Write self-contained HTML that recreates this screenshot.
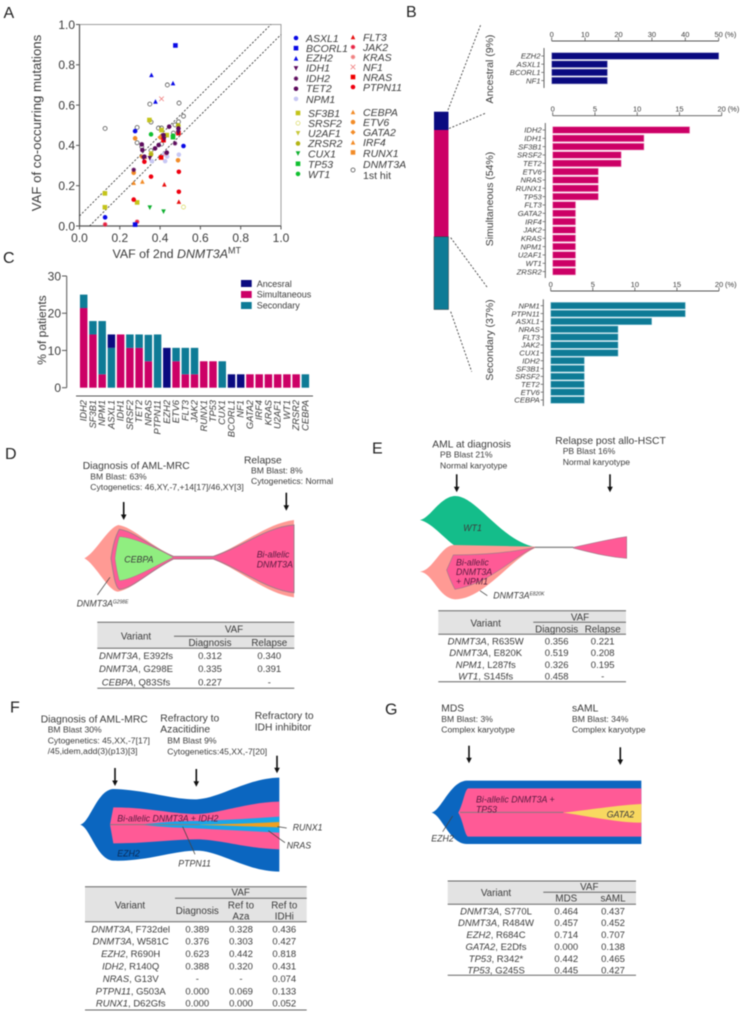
<!DOCTYPE html>
<html lang="en">
<head>
<meta charset="utf-8">
<title>DNMT3A clonal evolution figure</title>
<style>
html,body{margin:0;padding:0;background:#fff;}
svg{display:block;filter:blur(.42px);}
text{font-family:"Liberation Sans",sans-serif;fill:#3c3c3c;}
.pl{font-size:16px;fill:#222;}
.h{font-size:10.3px;}
.s{font-size:8.6px;}
.g{font-size:10.5px;font-style:italic;}
.f{font-size:8.8px;font-style:italic;}
.dk{fill:#5a1a40;}
.th{font-size:9.8px;text-anchor:middle;}
.td{font-size:9.5px;text-anchor:middle;}
.i{font-style:italic;}
.sup{font-size:5px;}
.ar{stroke:#111;stroke-width:1.6;fill:none;}
.ah{fill:#111;stroke:none;}
.rule{stroke:#666;stroke-width:1;}
.lead{stroke:#444;stroke-width:2.2;fill:none;}
.dash{stroke:#444;stroke-width:.9;stroke-dasharray:2 1.7;fill:none;}
</style>
</head>
<body>
<svg id="fig" xmlns="http://www.w3.org/2000/svg" width="744" height="1015" viewBox="0 0 744 1015">
<rect width="744" height="1015" fill="#fff"/>

<text class="pl" x="3.5" y="18">A</text>
<text class="pl" x="406" y="17">B</text>
<text class="pl" x="3" y="263">C</text>
<text class="pl" x="5" y="459">D</text>
<text class="pl" x="372" y="453.7">E</text>
<text class="pl" x="10" y="712.7">F</text>
<text class="pl" x="385" y="714.3">G</text>

<!-- Panel A -->
<g id="panelA">
<text x="37.5" y="123" font-size="13.2" text-anchor="middle" dominant-baseline="middle" transform="rotate(-90 37.5 123)">VAF of co-occurring mutations</text>
<text x="112.5" y="258" font-size="12.4">VAF of 2nd <tspan class="i">DNMT3A</tspan><tspan font-size="9" dy="-4.5">MT</tspan></text>
</g>
<g id="legendA">
<text class="g" x="306" y="42">ASXL1</text>
<text class="g" x="306" y="52">BCORL1</text>
<text class="g" x="306" y="61.5">EZH2</text>
<text class="g" x="306" y="71.5">IDH1</text>
<text class="g" x="306" y="82">IDH2</text>
<text class="g" x="306" y="92">TET2</text>
<text class="g" x="306" y="103">NPM1</text>
<text class="g" x="308" y="117">SF3B1</text>
<text class="g" x="308" y="127">SRSF2</text>
<text class="g" x="308" y="137">U2AF1</text>
<text class="g" x="308" y="147">ZRSR2</text>
<text class="g" x="308" y="157.5">CUX1</text>
<text class="g" x="308" y="168">TP53</text>
<text class="g" x="308" y="178">WT1</text>
<text class="g" x="363" y="41">FLT3</text>
<text class="g" x="363" y="51">JAK2</text>
<text class="g" x="363" y="61">KRAS</text>
<text class="g" x="363" y="71">NF1</text>
<text class="g" x="363" y="81">NRAS</text>
<text class="g" x="363" y="91">PTPN11</text>
<text class="g" x="363" y="116">CEBPA</text>
<text class="g" x="363" y="126">ETV6</text>
<text class="g" x="363" y="136">GATA2</text>
<text class="g" x="363" y="146">IRF4</text>
<text class="g" x="363" y="157">RUNX1</text>
<text class="g" x="363" y="168">DNMT3A</text>
<text x="363" y="179" font-size="10.5">1st hit</text>
</g>

<!-- Panel B -->
<g>
<rect x="434" y="111.7" width="14.5" height="18.3" fill="#0a0a80"/>
<rect x="434" y="130" width="14.5" height="106.7" fill="#cc0066"/>
<rect x="434" y="236.7" width="14.5" height="72.8" fill="#0e7b96" stroke="#333" stroke-width=".5"/>
<line class="dash" x1="448" y1="110" x2="481" y2="24"/>
<line class="dash" x1="449" y1="128.5" x2="486" y2="113"/>
<line class="dash" x1="450.7" y1="237.7" x2="487" y2="287"/>
<line class="dash" x1="450.7" y1="311.7" x2="471.7" y2="371.7"/>
<text x="490" y="69" font-size="10.5" text-anchor="middle" dominant-baseline="middle" transform="rotate(-90 490 69)">Ancestral (9%)</text>
<text x="490" y="199" font-size="10.5" text-anchor="middle" dominant-baseline="middle" transform="rotate(-90 490 199)">Simultaneous (54%)</text>
<text x="490" y="340" font-size="10.5" text-anchor="middle" dominant-baseline="middle" transform="rotate(-90 490 340)">Secondary (37%)</text>
</g>
<g id="panelB"></g>

<!-- Panel C -->
<g id="panelC">
<text x="43" y="330" font-size="12" text-anchor="middle" dominant-baseline="middle" transform="rotate(-90 43 330)">% of patients</text>
<g>
<rect x="241" y="280" width="10.7" height="7" fill="#0a0a80"/>
<text x="256.7" y="286.8" font-size="9">Ancesral</text>
<rect x="241" y="291" width="10.7" height="7" fill="#cc0066"/>
<text x="256.7" y="297.6" font-size="9">Simultaneous</text>
<rect x="241" y="302" width="10.7" height="7" fill="#0e7b96"/>
<text x="256.7" y="308.4" font-size="9">Secondary</text>
</g>
</g>

<!-- Panel D -->
<g>
<text class="h" x="82.7" y="469">Diagnosis of AML-MRC</text>
<text class="s" x="90.3" y="479.3">BM Blast: 63%</text>
<text class="s" x="90.3" y="490">Cytogenetics: 46,XY,-7,+14[17]/46,XY[3]</text>
<text class="h" x="244" y="463.3">Relapse</text>
<text class="s" x="251" y="473.3">BM Blast: 8%</text>
<text class="s" x="251" y="484">Cytogenetics: Normal</text>
<g><line class="ar" x1="123.7" y1="502" x2="123.7" y2="516"/><polygon class="ah" points="120.9,514.5 126.5,514.5 123.7,520"/></g>
<g><line class="ar" x1="286.3" y1="492.7" x2="286.3" y2="507"/><polygon class="ah" points="283.5,505.2 289.1,505.2 286.3,510.7"/></g>
<g transform="translate(0 440) scale(.33333)">
<path fill="#ff9a94" d="M253 355C285 340 325 262 355 255C400 262 440 310 520 348L640 348C720 320 800 250 882 240L882 472C800 462 720 390 640 358L520 358C440 400 400 445 355 455C325 455 285 370 253 355Z"/>
<path fill="#ff5a96" stroke="#a87a8a" stroke-width="3" d="M333 355C338 320 345 290 358 268C400 272 450 320 520 349L640 349C720 325 800 260 882 255L882 458C800 450 720 385 640 357L520 357C450 392 400 445 358 448C345 440 340 400 333 355Z"/>
<path fill="#90ee80" stroke="#a87a8a" stroke-width="1.5" d="M345 355C348 330 352 310 358 290C400 292 460 320 520 352C460 380 400 418 358 422C352 400 348 380 345 355Z"/>
<line class="lead" x1="330" y1="412" x2="292" y2="465"/>
</g>
<text class="f" x="124.3" y="562.7">CEBPA</text>
<text class="f dk" x="256.7" y="557.7">Bi-allelic</text>
<text class="f dk" x="256.7" y="567.3">DNMT3A</text>
<text class="f" x="76.7" y="606.7" font-size="8">DNMT3A<tspan class="sup" dy="-3">G298E</tspan></text>
<g>
<rect x="97.3" y="622.3" width="197" height="26" fill="#e3e3e3"/>
<line class="rule" x1="97.3" y1="622.3" x2="294.3" y2="622.3"/>
<line class="rule" x1="174" y1="636.3" x2="294.3" y2="636.3"/>
<line class="rule" x1="97.3" y1="648.3" x2="294.3" y2="648.3"/>
<line class="rule" x1="97.3" y1="688.3" x2="294.3" y2="688.3"/>
<text class="th" x="234" y="632.3">VAF</text>
<text class="th" x="136" y="639.3">Variant</text>
<text class="th" x="210" y="646">Diagnosis</text>
<text class="th" x="269.3" y="646">Relapse</text>
<text class="td" x="136" y="659"><tspan class="i">DNMT3A</tspan>, E392fs</text>
<text class="td" x="210" y="659">0.312</text>
<text class="td" x="269.3" y="659">0.340</text>
<text class="td" x="136" y="672"><tspan class="i">DNMT3A</tspan>, G298E</text>
<text class="td" x="210" y="672">0.335</text>
<text class="td" x="269.3" y="672">0.391</text>
<text class="td" x="136" y="685.3"><tspan class="i">CEBPA</tspan>, Q83Sfs</text>
<text class="td" x="210" y="685.3">0.227</text>
<text class="td" x="269.3" y="685.3">-</text>
</g>
</g>

<!-- Panel E -->
<g>
<text class="h" x="432.3" y="447.7">AML at diagnosis</text>
<text class="s" x="440" y="457.7">PB Blast 21%</text>
<text class="s" x="440" y="468.7">Normal karyotype</text>
<text class="h" x="555.3" y="444">Relapse post allo-HSCT</text>
<text class="s" x="562.7" y="454">PB Blast 16%</text>
<text class="s" x="562.7" y="465">Normal karyotype</text>
<g><line class="ar" x1="456.7" y1="474.3" x2="456.7" y2="488"/><polygon class="ah" points="453.9,486.8 459.5,486.8 456.7,492.3"/></g>
<g><line class="ar" x1="610" y1="474.3" x2="610" y2="488"/><polygon class="ah" points="607.2,486.8 612.8,486.8 610,492.3"/></g>
<g transform="translate(400 420) scale(.33333)">
<path fill="#14bd8a" d="M60 300C90 295 120 230 165 228C230 228 300 360 405 381L170 380C140 365 100 310 60 300Z"/>
<path fill="#ff9a94" d="M60 455C100 450 120 380 160 375L405 380L405 384C330 420 250 538 165 538C115 535 100 460 60 455Z"/>
<path fill="#ff5a96" stroke="#a87a8a" stroke-width="2" d="M140 450L160 405C250 405 330 398 405 382C340 410 270 490 165 508C150 480 145 465 140 450Z"/>
<line x1="405" y1="382" x2="520" y2="382" stroke="#8a8a8a" stroke-width="4"/>
<path fill="#ff5a96" stroke="#a87a8a" stroke-width="2" d="M520 382C600 365 640 355 680 350L680 415C640 412 600 405 520 384Z"/>
<line class="lead" x1="240" y1="512" x2="262" y2="527"/>
</g>
<text class="f" x="463.3" y="531">WT1</text>
<text class="f dk" x="456" y="565.3">Bi-allelic</text>
<text class="f dk" x="456" y="575">DNMT3A</text>
<text class="f dk" x="456" y="584.7">+ NPM1</text>
<text class="f" x="493.3" y="598.3">DNMT3A<tspan class="sup" dy="-3">E820K</tspan></text>
<g>
<rect x="438.3" y="610.7" width="187.7" height="23.6" fill="#e3e3e3"/>
<line class="rule" x1="438.3" y1="610.7" x2="626" y2="610.7"/>
<line class="rule" x1="533.3" y1="622.3" x2="626" y2="622.3"/>
<line class="rule" x1="438.3" y1="634.3" x2="626" y2="634.3"/>
<line class="rule" x1="438.3" y1="681.7" x2="626" y2="681.7"/>
<text class="th" x="580" y="620.3">VAF</text>
<text class="th" x="485.7" y="626.7">Variant</text>
<text class="th" x="556.7" y="632.3">Diagnosis</text>
<text class="th" x="602.7" y="632.3">Relapse</text>
<text class="td" x="485.7" y="644.7"><tspan class="i">DNMT3A</tspan>, R635W</text>
<text class="td" x="556.7" y="644.7">0.356</text>
<text class="td" x="602.7" y="644.7">0.221</text>
<text class="td" x="485.7" y="656.2"><tspan class="i">DNMT3A</tspan>, E820K</text>
<text class="td" x="556.7" y="656.2">0.519</text>
<text class="td" x="602.7" y="656.2">0.208</text>
<text class="td" x="485.7" y="667.8"><tspan class="i">NPM1</tspan>, L287fs</text>
<text class="td" x="556.7" y="667.8">0.326</text>
<text class="td" x="602.7" y="667.8">0.195</text>
<text class="td" x="485.7" y="679.3"><tspan class="i">WT1</tspan>, S145fs</text>
<text class="td" x="556.7" y="679.3">0.458</text>
<text class="td" x="602.7" y="679.3">-</text>
</g>
</g>

<!-- Panel F -->
<g>
<text class="h" x="40.7" y="722.3">Diagnosis of AML-MRC</text>
<text class="s" x="47.7" y="732.3">BM Blast 30%</text>
<text class="s" x="47.7" y="743.3">Cytogenetics: 45,XX,-7[17]</text>
<text class="s" x="47.7" y="754">/45,idem,add(3)(p13)[3]</text>
<text class="h" x="160.3" y="721.7">Refractory to</text>
<text class="h" x="160.3" y="732.7">Azacitidine</text>
<text class="s" x="167.3" y="743.3">BM Blast 9%</text>
<text class="s" x="167.3" y="754.7">Cytogenetics:45,XX,-7[20]</text>
<text class="h" x="254.7" y="719">Refractory to</text>
<text class="h" x="254.7" y="730.7">IDH inhibitor</text>
<g><line class="ar" x1="115" y1="768" x2="115" y2="782"/><polygon class="ah" points="112.2,780.5 117.8,780.5 115,786"/></g>
<g><line class="ar" x1="196.3" y1="769" x2="196.3" y2="783"/><polygon class="ah" points="193.5,781.2 199.1,781.2 196.3,786.7"/></g>
<g><line class="ar" x1="277" y1="755.7" x2="277" y2="769"/><polygon class="ah" points="274.2,767.8 279.8,767.8 277,773.3"/></g>
<g transform="translate(0 690) scale(.33333)">
<path fill="#0b66c0" d="M240 404C270 400 290 300 340 297C440 300 520 330 590 328C660 325 740 265 838 263L838 545C740 545 660 482 590 482C520 482 440 515 340 512C290 510 270 410 240 404Z"/>
<path fill="#ff5a96" d="M330 404L340 352C440 352 520 372 590 372C660 370 740 337 838 335L838 478C740 476 660 448 590 448C520 448 440 460 340 460Z"/>
<path fill="#1aa6e8" d="M420 404C500 395 540 393 590 393C680 390 760 385 838 380L838 428C760 424 680 420 590 415C540 413 500 413 420 404Z"/>
<path fill="#f0a020" d="M590 404C700 402 770 399 838 396L838 412C770 410 700 408 590 404Z"/>
<line x1="330" y1="404" x2="600" y2="404" stroke="#8a7a80" stroke-width="3"/>
<line class="lead" x1="548" y1="410" x2="585" y2="493"/>
<line class="lead" x1="832" y1="410" x2="860" y2="414"/>
<line class="lead" x1="805" y1="422" x2="855" y2="458"/>
</g>
<text class="f dk" x="117.3" y="821.7">Bi-allelic DNMT3A + IDH2</text>
<text class="f" x="117.3" y="856.7" style="fill:#0a2a55">EZH2</text>
<text class="f" x="178.3" y="866.7" font-size="8.5">PTPN11</text>
<text class="f" x="292.7" y="830.7">RUNX1</text>
<text class="f" x="286.7" y="848.3">NRAS</text>
<g>
<rect x="85" y="886.7" width="221.7" height="35" fill="#e3e3e3"/>
<line class="rule" x1="85" y1="886.7" x2="306.7" y2="886.7"/>
<line class="rule" x1="175" y1="898.3" x2="306.7" y2="898.3"/>
<line class="rule" x1="85" y1="921.7" x2="306.7" y2="921.7"/>
<line class="rule" x1="85" y1="1010" x2="306.7" y2="1010"/>
<text class="th" x="240.7" y="895.7">VAF</text>
<text class="th" x="130" y="908.3">Variant</text>
<text class="th" x="197.3" y="914">Diagnosis</text>
<text class="th" x="241" y="908.3">Ref to</text>
<text class="th" x="241" y="919.3">Aza</text>
<text class="th" x="284.3" y="908.3">Ref to</text>
<text class="th" x="284.3" y="919.3">IDHi</text>
<text class="td" x="130.7" y="932.3"><tspan class="i">DNMT3A</tspan>, F732del</text>
<text class="td" x="197.3" y="932.3">0.389</text>
<text class="td" x="241" y="932.3">0.328</text>
<text class="td" x="284.3" y="932.3">0.436</text>
<text class="td" x="130.7" y="944.7"><tspan class="i">DNMT3A</tspan>, W581C</text>
<text class="td" x="197.3" y="944.7">0.376</text>
<text class="td" x="241" y="944.7">0.303</text>
<text class="td" x="284.3" y="944.7">0.427</text>
<text class="td" x="130.7" y="957.1"><tspan class="i">EZH2</tspan>, R690H</text>
<text class="td" x="197.3" y="957.1">0.623</text>
<text class="td" x="241" y="957.1">0.442</text>
<text class="td" x="284.3" y="957.1">0.818</text>
<text class="td" x="130.7" y="969.5"><tspan class="i">IDH2</tspan>, R140Q</text>
<text class="td" x="197.3" y="969.5">0.388</text>
<text class="td" x="241" y="969.5">0.320</text>
<text class="td" x="284.3" y="969.5">0.431</text>
<text class="td" x="130.7" y="981.9"><tspan class="i">NRAS</tspan>, G13V</text>
<text class="td" x="197.3" y="981.9">-</text>
<text class="td" x="241" y="981.9">-</text>
<text class="td" x="284.3" y="981.9">0.074</text>
<text class="td" x="130.7" y="994.3"><tspan class="i">PTPN11</tspan>, G503A</text>
<text class="td" x="197.3" y="994.3">0.000</text>
<text class="td" x="241" y="994.3">0.069</text>
<text class="td" x="284.3" y="994.3">0.133</text>
<text class="td" x="130.7" y="1006.7"><tspan class="i">RUNX1</tspan>, D62Gfs</text>
<text class="td" x="197.3" y="1006.7">0.000</text>
<text class="td" x="241" y="1006.7">0.000</text>
<text class="td" x="284.3" y="1006.7">0.052</text>
</g>
</g>

<!-- Panel G -->
<g>
<text class="h" x="441.3" y="711.7">MDS</text>
<text class="s" x="441.3" y="722">BM Blast: 3%</text>
<text class="s" x="441.3" y="732.7">Complex karyotype</text>
<text class="h" x="572" y="711.7">sAML</text>
<text class="s" x="572" y="722">BM Blast: 34%</text>
<text class="s" x="572" y="732.7">Complex karyotype</text>
<g><line class="ar" x1="469" y1="745.7" x2="469" y2="759"/><polygon class="ah" points="466.2,757.8 471.8,757.8 469,763.3"/></g>
<g><line class="ar" x1="620.3" y1="747.3" x2="620.3" y2="761"/><polygon class="ah" points="617.5,759.5 623.1,759.5 620.3,765"/></g>
<g transform="translate(400 690) scale(.33333)">
<path fill="#0b66c0" d="M95 368C125 360 150 275 200 272L724 272L724 462L200 462C150 462 125 375 95 368Z"/>
<path fill="#ff5a96" d="M175 368C190 340 195 296 205 295L724 295L724 440L205 440C195 440 190 395 175 368Z"/>
<path fill="#f8d860" d="M490 368C600 355 660 345 724 342L724 398C660 398 600 385 490 368Z"/>
<line x1="180" y1="367" x2="490" y2="367" stroke="#8a7a80" stroke-width="3"/>
<line class="lead" x1="158" y1="378" x2="128" y2="425"/>
</g>
<text class="f dk" x="476" y="802.7">Bi-allelic DNMT3A +</text>
<text class="f dk" x="476" y="812.7">TP53</text>
<text class="f" x="606.7" y="817.7">GATA2</text>
<text class="f" x="431.3" y="841.7">EZH2</text>
<g>
<rect x="447.7" y="881" width="188.3" height="23.3" fill="#e3e3e3"/>
<line class="rule" x1="447.7" y1="881" x2="636" y2="881"/>
<line class="rule" x1="543.3" y1="892.3" x2="636" y2="892.3"/>
<line class="rule" x1="447.7" y1="904.3" x2="636" y2="904.3"/>
<line class="rule" x1="447.7" y1="975.3" x2="636" y2="975.3"/>
<text class="th" x="589.3" y="890">VAF</text>
<text class="th" x="496" y="896">Variant</text>
<text class="th" x="566.3" y="901.7">MDS</text>
<text class="th" x="613" y="901.7">sAML</text>
<text class="td" x="496" y="914.3"><tspan class="i">DNMT3A</tspan>, S770L</text>
<text class="td" x="566.3" y="914.3">0.464</text>
<text class="td" x="613" y="914.3">0.437</text>
<text class="td" x="496" y="926.2"><tspan class="i">DNMT3A</tspan>, R484W</text>
<text class="td" x="566.3" y="926.2">0.457</text>
<text class="td" x="613" y="926.2">0.452</text>
<text class="td" x="496" y="938.1"><tspan class="i">EZH2</tspan>, R684C</text>
<text class="td" x="566.3" y="938.1">0.714</text>
<text class="td" x="613" y="938.1">0.707</text>
<text class="td" x="496" y="950"><tspan class="i">GATA2</tspan>, E2Dfs</text>
<text class="td" x="566.3" y="950">0.000</text>
<text class="td" x="613" y="950">0.138</text>
<text class="td" x="496" y="961.9"><tspan class="i">TP53</tspan>, R342*</text>
<text class="td" x="566.3" y="961.9">0.442</text>
<text class="td" x="613" y="961.9">0.465</text>
<text class="td" x="496" y="973.7"><tspan class="i">TP53</tspan>, G245S</text>
<text class="td" x="566.3" y="973.7">0.445</text>
<text class="td" x="613" y="973.7">0.427</text>
</g>
</g>
</svg>

<script>
// ---------- Panel A data: VAF of 2nd DNMT3A (x) vs VAF of co-occurring mutation (y) ----------
const scatterTicks = [0, 0.2, 0.4, 0.6, 0.8, 1.0];
const scatterTickLabels = ['0.0', '0.2', '0.4', '0.6', '0.8', '1.0'];
const diagonalOffset = 0.05;
const firstHitX = [0.127, 0.286, 0.286, 0.349, 0.436, 0.494, 0.355, 0.392, 0.407, 0.466, 0.474, 0.491, 0.516, 0.355, 0.407, 0.309];
const firstHitY = [0.484, 0.489, 0.413, 0.605, 0.700, 0.610, 0.516, 0.486, 0.486, 0.461, 0.502, 0.517, 0.545, 0.374, 0.407, 0.393];
const asxl1X = [0.276, 0.127, 0.516];
const asxl1Y = [0.471, 0.043, 0.397];
const bcorl1X = [0.476, 0.276];
const bcorl1Y = [0.896, 0.007];
const ezh2X = [0.357, 0.464, 0.377];
const ezh2Y = [0.750, 0.709, 0.618];
const idh1X = [0.317, 0.349, 0.420, 0.490];
const idh1Y = [0.336, 0.336, 0.430, 0.463];
const idh2X = [0.269, 0.474];
const idh2Y = [0.279, 0.410];
const tet2X = [0.309, 0.312, 0.322, 0.375, 0.393, 0.417, 0.445, 0.491, 0.433];
const tet2Y = [0.405, 0.377, 0.344, 0.385, 0.402, 0.451, 0.493, 0.484, 0.364];
const npm1X = [0.359, 0.420, 0.425, 0.493, 0.435];
const npm1Y = [0.322, 0.357, 0.322, 0.354, 0.345];
const sf3b1X = [0.126, 0.126, 0.286, 0.347, 0.433, 0.407];
const sf3b1Y = [0.162, 0.093, 0.117, 0.526, 0.451, 0.476];
const srsf2X = [0.516, 0.491];
const srsf2Y = [0.094, 0.496];
const u2af1X = [0.355];
const u2af1Y = [0.360];
const zrsr2X = [0.355, 0.490];
const zrsr2Y = [0.354, 0.500];
const cux1X = [0.349, 0.417];
const cux1Y = [0.091, 0.071];
const tp53X = [0.464];
const tp53Y = [0.441];
const wt1X = [0.355, 0.464];
const wt1Y = [0.455, 0.448];
const flt3X = [0.421, 0.493];
const flt3Y = [0.207, 0.121];
const jak2X = [0.286, 0.127];
const jak2Y = [0.021, 0.008];
const krasX = [0.430];
const krasY = [0.360];
const nf1X = [0.407];
const nf1Y = [0.631];
const nrasX = [0.405, 0.491, 0.417];
const nrasY = [0.340, 0.461, 0.426];
const ptpn11X = [0.355, 0.269, 0.493, 0.493, 0.322, 0.417];
const ptpn11Y = [0.245, 0.131, 0.269, 0.170, 0.319, 0.435];
const cebpaX = [0.312, 0.269];
const cebpaY = [0.221, 0.215];
const etv6X = [0.276, 0.269, 0.489];
const etv6Y = [0.435, 0.264, 0.326];
const gata2X = [0.309, 0.355, 0.400];
const gata2Y = [0.344, 0.360, 0.440];
const irf4X = [0.325];
const irf4Y = [0.344];
const runx1X = [0.410];
const runx1Y = [0.443];

// ---------- Panel B data ----------
const ancestralGenes = ['EZH2', 'ASXL1', 'BCORL1', 'NF1'];
const ancestralPct = [50, 16.67, 16.67, 16.67];
const ancestralTicks = [0, 10, 20, 30, 40, 50];
const simultaneousGenes = ['IDH2', 'IDH1', 'SF3B1', 'SRSF2', 'TET2', 'ETV6', 'NRAS', 'RUNX1', 'TP53', 'FLT3', 'GATA2', 'IRF4', 'JAK2', 'KRAS', 'NPM1', 'U2AF1', 'WT1', 'ZRSR2'];
const simultaneousPct = [16.2, 10.8, 10.8, 8.1, 8.1, 5.4, 5.4, 5.4, 5.4, 2.7, 2.7, 2.7, 2.7, 2.7, 2.7, 2.7, 2.7, 2.7];
const simultaneousTicks = [0, 5, 10, 15, 20];
const secondaryGenes = ['NPM1', 'PTPN11', 'ASXL1', 'NRAS', 'FLT3', 'JAK2', 'CUX1', 'IDH2', 'SF3B1', 'SRSF2', 'TET2', 'ETV6', 'CEBPA'];
const secondaryPct = [16, 16, 12, 8, 8, 8, 8, 4, 4, 4, 4, 4, 4];
const secondaryTicks = [0, 5, 10, 15, 20];

// ---------- Panel C data ----------
const stackGenes = ['IDH2', 'SF3B1', 'NPM1', 'ASXL1', 'IDH1', 'SRSF2', 'TET2', 'NRAS', 'PTPN11', 'EZH2', 'ETV6', 'FLT3', 'JAK2', 'RUNX1', 'TP53', 'CUX1', 'BCORL1', 'NF1', 'GATA2', 'IRF4', 'KRAS', 'U2AF1', 'WT1', 'ZRSR2', 'CEBPA'];
const stackSimultaneous = [21.4, 14.3, 3.6, 0, 14.3, 10.7, 10.7, 7.1, 0, 0, 7.1, 3.6, 3.6, 7.1, 7.1, 0, 0, 0, 3.6, 3.6, 3.6, 3.6, 3.6, 3.6, 0];
const stackSecondary = [3.6, 3.6, 14.3, 10.7, 0, 3.6, 3.6, 7.1, 14.3, 0, 3.6, 7.1, 7.1, 0, 0, 7.1, 0, 0, 0, 0, 0, 0, 0, 0, 3.6];
const stackAncestral = [0, 0, 0, 3.6, 0, 0, 0, 0, 0, 10.7, 0, 0, 0, 0, 0, 0, 3.6, 3.6, 0, 0, 0, 0, 0, 0, 0];
const stackTicks = [0, 10, 20, 30];

const NS = 'http://www.w3.org/2000/svg';
function make(tag, attrs, parent, text) {
  const node = document.createElementNS(NS, tag);
  for (const k in attrs) node.setAttribute(k, attrs[k]);
  if (text !== undefined) node.textContent = text;
  parent.appendChild(node);
  return node;
}

// ---------- Scatter ----------
const panelA = document.getElementById('panelA');
const legendA = document.getElementById('legendA');
const xA = v => 79.5 + v * 201.5;
const yA = v => 226 - v * 201.5;

function drawMarker(shape, color, cx, cy, parent) {
  const r = 2.3;
  let m;
  if (shape === 'circle') m = make('circle', { cx: cx, cy: cy, r: r, fill: color }, parent);
  else if (shape === 'open') m = make('circle', { cx: cx, cy: cy, r: r - 0.3, fill: 'none', stroke: color, 'stroke-width': 0.8 }, parent);
  else if (shape === 'square') m = make('rect', { x: cx - r, y: cy - r, width: 2 * r, height: 2 * r, fill: color }, parent);
  else if (shape === 'up') m = make('polygon', { points: (cx - r) + ',' + (cy + r) + ' ' + (cx + r) + ',' + (cy + r) + ' ' + cx + ',' + (cy - r), fill: color }, parent);
  else if (shape === 'down') m = make('polygon', { points: (cx - r) + ',' + (cy - r) + ' ' + (cx + r) + ',' + (cy - r) + ' ' + cx + ',' + (cy + r), fill: color }, parent);
  else if (shape === 'diamond') m = make('polygon', { points: (cx - r - 0.3) + ',' + cy + ' ' + cx + ',' + (cy - r - 0.3) + ' ' + (cx + r + 0.3) + ',' + cy + ' ' + cx + ',' + (cy + r + 0.3), fill: color }, parent);
  else if (shape === 'x') m = make('path', { d: 'M' + (cx - r) + ' ' + (cy - r) + 'L' + (cx + r) + ' ' + (cy + r) + 'M' + (cx + r) + ' ' + (cy - r) + 'L' + (cx - r) + ' ' + (cy + r), stroke: color, 'stroke-width': 0.8, fill: 'none' }, parent);
  else m = make('path', { d: 'M' + (cx - r) + ' ' + cy + 'L' + (cx + r) + ' ' + cy + 'M' + cx + ' ' + (cy - r) + 'L' + cx + ' ' + (cy + r) + 'M' + (cx - r * 0.7) + ' ' + (cy - r * 0.7) + 'L' + (cx + r * 0.7) + ' ' + (cy + r * 0.7) + 'M' + (cx + r * 0.7) + ' ' + (cy - r * 0.7) + 'L' + (cx - r * 0.7) + ' ' + (cy + r * 0.7), stroke: color, 'stroke-width': 1, fill: 'none' }, parent);
  return m;
}

const frame = make('rect', { x: xA(0), y: yA(1), width: xA(1) - xA(0), height: yA(0) - yA(1), fill: 'none', stroke: '#888', 'stroke-width': 0.8 }, panelA);


const axisLeft = make('line', { x1: xA(0), y1: yA(1), x2: xA(0), y2: yA(0), stroke: '#555', 'stroke-width': 1.2 }, panelA);


const axisBottom = make('line', { x1: xA(0), y1: yA(0), x2: xA(1), y2: yA(0), stroke: '#555', 'stroke-width': 1.2 }, panelA);



scatterTicks.forEach(function (t, i) {
  const yt = make('line', { x1: xA(0) - 3.5, y1: yA(t), x2: xA(0), y2: yA(t), stroke: '#555', 'stroke-width': 1 }, panelA);
  
  
  const xt = make('line', { x1: xA(t), y1: yA(0), x2: xA(t), y2: yA(0) + 3.5, stroke: '#555', 'stroke-width': 1 }, panelA);
  
  
  const yl = make('text', { x: 75, y: yA(t) + 4.3, 'font-size': 12, 'text-anchor': 'end' }, panelA, scatterTickLabels[i]);
  
  
  const xl = make('text', { x: xA(t), y: 242, 'font-size': 12, 'text-anchor': 'middle' }, panelA, scatterTickLabels[i]);
  
  
});

const diagUpper = make('line', { class: 'dash', x1: xA(0), y1: yA(diagonalOffset), x2: xA(1 - diagonalOffset), y2: yA(1) }, panelA);


const diagLower = make('line', { class: 'dash', x1: xA(diagonalOffset), y1: yA(0), x2: xA(1), y2: yA(1 - diagonalOffset) }, panelA);



const scatterSeries = {
  firstHit: [firstHitX, firstHitY, 'open', '#555555'],
  npm1: [npm1X, npm1Y, 'circle', '#c8c8f4'],
  etv6: [etv6X, etv6Y, 'circle', '#f28c28'],
  gata2: [gata2X, gata2Y, 'diamond', '#f28c28'],
  cebpa: [cebpaX, cebpaY, 'up', '#f28c28'],
  irf4: [irf4X, irf4Y, 'up', '#f28c28'],
  runx1: [runx1X, runx1Y, 'square', '#f28c28'],
  sf3b1: [sf3b1X, sf3b1Y, 'square', '#c4c41a'],
  srsf2: [srsf2X, srsf2Y, 'open', '#dcdc70'],
  u2af1: [u2af1X, u2af1Y, 'down', '#c8c83a'],
  zrsr2: [zrsr2X, zrsr2Y, 'circle', '#b4b414'],
  cux1: [cux1X, cux1Y, 'down', '#10b030'],
  tp53: [tp53X, tp53Y, 'square', '#10c030'],
  wt1: [wt1X, wt1Y, 'circle', '#10c030'],
  flt3: [flt3X, flt3Y, 'up', '#e81010'],
  jak2: [jak2X, jak2Y, 'star', '#e82040'],
  kras: [krasX, krasY, 'star', '#f08080'],
  nf1: [nf1X, nf1Y, 'x', '#f08080'],
  nras: [nrasX, nrasY, 'square', '#f00000'],
  ptpn11: [ptpn11X, ptpn11Y, 'circle', '#f00010'],
  asxl1: [asxl1X, asxl1Y, 'circle', '#0a0ae6'],
  bcorl1: [bcorl1X, bcorl1Y, 'square', '#0a0ae6'],
  ezh2: [ezh2X, ezh2Y, 'up', '#0a0ae6'],
  idh1: [idh1X, idh1Y, 'down', '#5c0a5c'],
  idh2: [idh2X, idh2Y, 'star', '#5c0a5c'],
  tet2: [tet2X, tet2Y, 'circle', '#5c0a5c']
};
Object.keys(scatterSeries).forEach(function (key) {
  const s = scatterSeries[key];
  s[0].forEach(function (vx, i) {
    const pt = drawMarker(s[2], s[3], xA(vx), yA(s[1][i]), panelA);
    
    
  });
});

function legendColumn(keys, markerX, startY, step) {
  keys.forEach(function (key, i) {
    const s = scatterSeries[key];
    const mk = drawMarker(s[2], s[3], markerX, startY + i * step, legendA);
    
    
  });
}
legendColumn(['asxl1', 'bcorl1', 'ezh2', 'idh1', 'idh2', 'tet2', 'npm1'], 296, 38, 10.15);
legendColumn(['sf3b1', 'srsf2', 'u2af1', 'zrsr2', 'cux1', 'tp53', 'wt1'], 298, 113, 10.15);
legendColumn(['flt3', 'jak2', 'kras', 'nf1', 'nras', 'ptpn11'], 353, 37, 10);
legendColumn(['cebpa', 'etv6', 'gata2', 'irf4', 'runx1'], 353, 112, 10.1);
legendColumn(['firstHit'], 353, 170, 0);

// ---------- Horizontal bars (panel B) ----------
const panelB = document.getElementById('panelB');
function drawHBars(genes, values, ticks, maxValue, x0, x1, axisY, firstY, stepY, spineX, spineTop, spineBottom, color, edge) {
  const xs = v => x0 + (v / maxValue) * (x1 - x0);
  const topAxis = make('line', { x1: x0, y1: axisY, x2: x1, y2: axisY, stroke: '#555', 'stroke-width': 0.9 }, panelB);
  
  
  ticks.forEach(function (t) {
    const tk = make('line', { x1: xs(t), y1: axisY - 3.5, x2: xs(t), y2: axisY, stroke: '#555', 'stroke-width': 0.8 }, panelB);
    
    
    const tl = make('text', { x: xs(t), y: axisY - 4, 'font-size': 7.5, 'text-anchor': 'middle' }, panelB, String(t));
    
    
  });
  const unit = make('text', { x: x1 + 6, y: axisY - 4, 'font-size': 7.5 }, panelB, '(%)');
  
  
  const spine = make('line', { x1: spineX, y1: spineTop, x2: spineX, y2: spineBottom, stroke: '#555', 'stroke-width': 0.9 }, panelB);
  
  
  genes.forEach(function (g, i) {
    const cy = firstY + i * stepY;
    const bar = make('rect', { x: xs(0), y: cy - 3.3, width: xs(values[i]) - xs(0), height: 6.6, fill: color, stroke: edge, 'stroke-width': 0.5 }, panelB);
    
    
    const ct = make('line', { x1: spineX - 2.7, y1: cy, x2: spineX, y2: cy, stroke: '#555', 'stroke-width': 0.7 }, panelB);
    
    
    const cl = make('text', { x: spineX - 3.5, y: cy + 2.7, 'font-size': 7.7, 'font-style': 'italic', 'text-anchor': 'end' }, panelB, g);
    
    
  });
}
drawHBars(ancestralGenes, ancestralPct, ancestralTicks, 50, 551.7, 718.7, 41, 56, 8.2, 544, 48, 88, '#0a0a80', '#8a8ac0');
drawHBars(simultaneousGenes, simultaneousPct, simultaneousTicks, 20, 552.7, 721.7, 115.7, 130, 8.33, 545.3, 123, 278, '#cc0066', '#ee88bb');
drawHBars(secondaryGenes, secondaryPct, secondaryTicks, 20, 550.7, 719, 291, 305.7, 7.86, 543.3, 299.3, 406, '#0e7b96', '#88c4d4');

// ---------- Stacked bars (panel C) ----------
const panelC = document.getElementById('panelC');
const yC = v => 387.7 - (v / 30) * 111.7;
const xC = i => 83.7 + i * 9.236;
const spineC = make('line', { x1: 66.7, y1: yC(30), x2: 66.7, y2: yC(0), stroke: '#555', 'stroke-width': 1 }, panelC);


stackTicks.forEach(function (t) {
  const tk = make('line', { x1: 62, y1: yC(t), x2: 66.7, y2: yC(t), stroke: '#555', 'stroke-width': 1 }, panelC);
  
  
  const tl = make('text', { x: 61, y: yC(t) + 4.3, 'font-size': 12, 'text-anchor': 'end' }, panelC, String(t));
  
  
});
const baseC = make('line', { x1: 76, y1: 396, x2: 313, y2: 396, stroke: '#555', 'stroke-width': 1 }, panelC);


stackGenes.forEach(function (g, i) {
  let base = 0;
  const layers = [[stackSimultaneous[i], '#cc0066'], [stackSecondary[i], '#0e7b96'], [stackAncestral[i], '#0a0a80']];
  layers.forEach(function (layer) {
    if (layer[0] > 0) {
      const seg = make('rect', { x: xC(i) - 3.75, y: yC(base + layer[0]), width: 7.5, height: yC(base) - yC(base + layer[0]), fill: layer[1] }, panelC);
      
      
      base += layer[0];
    }
  });
  const lx = xC(i) + 3;
  const label = make('text', { x: lx, y: 400, 'font-size': 9.3, 'font-style': 'italic', 'text-anchor': 'end', transform: 'rotate(-90 ' + lx + ' 400)' }, panelC, g);
  
  
});
</script>
</body>
</html>
